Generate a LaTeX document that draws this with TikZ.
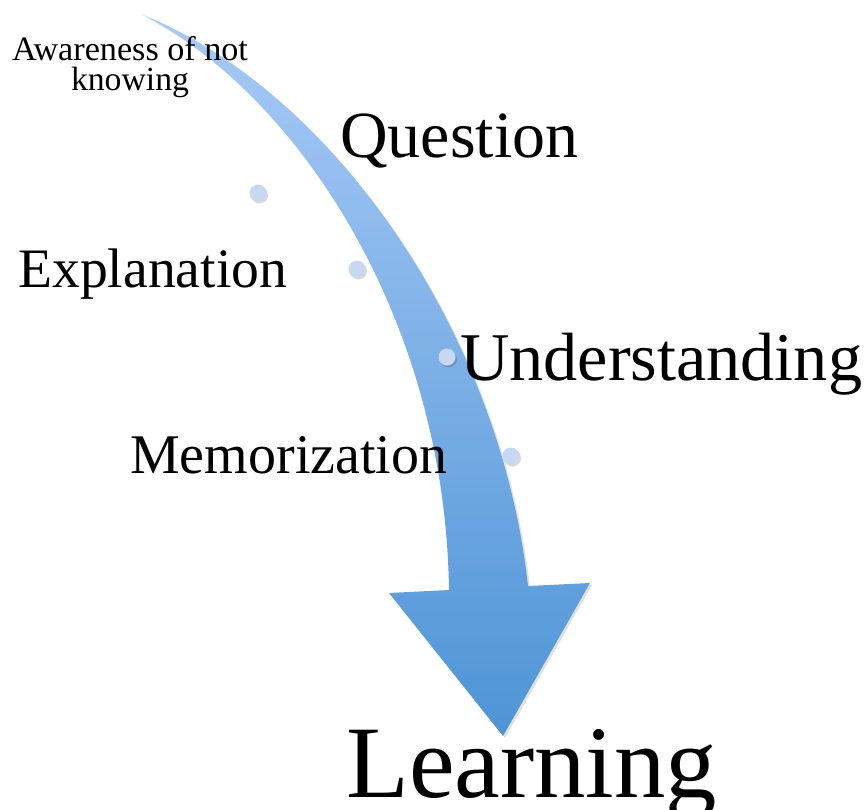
\documentclass[tikz,border=0pt]{standalone}
\usepackage{fontspec}
\setmainfont{Liberation Serif}
\usepackage{graphicx}
\definecolor{arrtop}{RGB}{168,202,246}
\definecolor{arrbot}{RGB}{78,148,214}
\definecolor{dotc}{RGB}{200,216,242}
\begin{document}
\begin{tikzpicture}[x=1pt,y=-1pt,
  lbl/.style={inner sep=0pt,anchor=base west,text=black},
  dotstyle/.style={circle,inner sep=0pt,minimum size=17pt,fill=dotc}]
\useasboundingbox (0,0) rectangle (867,809);
\def\arrowpath{(143,15) .. controls (330,90) and (500,330) .. (528,586)
  -- (590,583) -- (503,736) -- (389,593) -- (449,590)
  .. controls (445,310) and (290,90) .. (143,15) -- cycle}
% arrow shadow
\fill[black,opacity=0.12,shift={(2,2)}] \arrowpath;
% arrow
\shade[top color=arrtop,bottom color=arrbot] \arrowpath;
% dots
\foreach \n/\x/\y in {d1/258/193, d2/357/269, d3/447/357, d4/511/456}{
  \fill[black,opacity=0.15] (\x+1.5,\y+2) circle (8.5pt);
  \node[dotstyle] (\n) at (\x,\y) {};
}
% labels
\node[inner sep=0pt,anchor=base] (aw1) at (130,60) {\resizebox{236pt}{!}{Awareness of not}};
\node[inner sep=0pt,anchor=base] (aw2) at (130,90) {\resizebox{118pt}{!}{knowing}};
\node[lbl] (q) at (340,157) {\resizebox{238pt}{!}{Question}};
\node[lbl] (ex) at (18,287) {\resizebox{269pt}{!}{Explanation}};
\node[lbl] (un) at (460,380) {\resizebox{402pt}{!}{Understanding}};
\node[lbl] (me) at (130,473) {\resizebox{317pt}{!}{Memorization}};
\node[lbl] (le) at (346,797) {\resizebox{371pt}{!}{Learning}};
\end{tikzpicture}
\end{document}
